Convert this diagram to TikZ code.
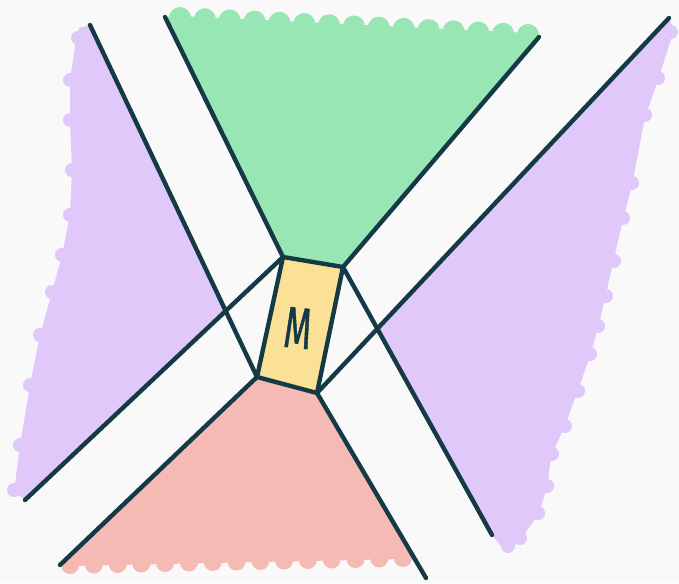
\documentclass[tikz,border=0pt]{standalone}
\usepackage{fontspec}
\setmainfont{Fira Sans}
\newfontfamily\handfont[FakeBold=1.2]{Fira Sans}
\usetikzlibrary{calc}
\definecolor{ink}{HTML}{143A46}
\definecolor{bgc}{HTML}{F9F9F9}
\definecolor{gfill}{HTML}{98E6B3}
\definecolor{pfill}{HTML}{E0C8FA}
\definecolor{rfill}{HTML}{F4BAB3}
\definecolor{yfill}{HTML}{FBE196}
\begin{document}
\begin{tikzpicture}[x=1pt,y=-1pt,
    edge/.style={draw=ink, line width=4.4pt, line cap=round, line join=round}]
    % Canvas
    \useasboundingbox[fill=bgc] (0,0) rectangle (679,583);
    % Corners of the M box
    \coordinate (tl) at (283,257);
    \coordinate (tr) at (343,267);
    \coordinate (br) at (317,393);
    \coordinate (bl) at (257,377);
    % Free ends of the lines
    \coordinate (g1) at (165,17);
    \coordinate (g2) at (539,37);
    \coordinate (a3) at (90,25);
    \coordinate (a4) at (25,500);
    \coordinate (r1) at (60,565);
    \coordinate (r2) at (426,578);
    \coordinate (a7) at (492,535);
    \coordinate (a8) at (669,18);
    % Crossings
    \coordinate (xl) at (intersection of a3--bl and tl--a4);
    \coordinate (xr) at (intersection of tr--a7 and br--a8);
    % Green region (top)
    \fill[gfill] (g1) -- (tl) -- (tr) -- (g2) -- (528,33) -- (180,16) -- cycle;
    \foreach \i in {0,...,14}
      \fill[gfill] ($(180,18)!\i/14!(528,35)$) circle (11pt);
    % Red region (bottom)
    \fill[rfill] (bl) -- (br) -- ($(br)!0.9!(r2)$) -- (403,559) -- (70,566) -- (r1) -- cycle;
    \foreach \i in {0,...,14}
      \fill[rfill] ($(70,565)!\i/14!(403,558)$) circle (9pt);
    % Purple region (left)
    \fill[pfill] (a3) -- (xl) -- (a4) -- (14,492) -- (20,445) -- (30,385) -- (40,335)
      -- (52,292) -- (62,255) -- (70,215) -- (72,170) -- (70,120) -- (70,80)
      -- (76,40) -- (79,28) -- cycle;
    \foreach \p in {(14,490),(20,445),(30,385),(40,335),(52,292),(62,255),
                    (70,215),(72,170),(70,120),(70,80),(78,38)}
      \fill[pfill] \p circle (7pt);
    % Purple region (right)
    \fill[pfill] (a8) -- (xr) -- (a7) -- (505,551) -- (518,543) -- (538,515)
      -- (547,488) -- (551,456) -- (564,428) -- (577,393) -- (590,356) -- (598,328)
      -- (605,298) -- (613,263) -- (623,220) -- (632,185) -- (645,117) -- (658,80)
      -- (674,30) -- cycle;
    \foreach \p in {(508,546),(520,538),(538,513),(547,486),(552,454),(565,426),
                    (578,391),(590,354),(598,326),(606,296),(614,261),(623,218),
                    (632,183),(645,115),(658,78),(671,32)}
      \fill[pfill] \p circle (7pt);
    % Lines
    \draw[edge] (g1) -- (tl);
    \draw[edge] (g2) -- (tr);
    \draw[edge] (a3) -- (bl);
    \draw[edge] (tl) -- (a4);
    \draw[edge] (bl) -- (r1);
    \draw[edge] (br) -- (r2);
    \draw[edge] (tr) -- (a7);
    \draw[edge] (br) -- (a8);
    % M box
    \draw[edge, fill=yfill] (tl) -- (tr) -- (br) -- (bl) -- cycle;
    \node[text=ink, rotate=-6, font=\fontsize{58}{58}\handfont]
      (m) at (298,328) {\scalebox{0.6}[1]{M}};
  \end{tikzpicture}
\end{document}
